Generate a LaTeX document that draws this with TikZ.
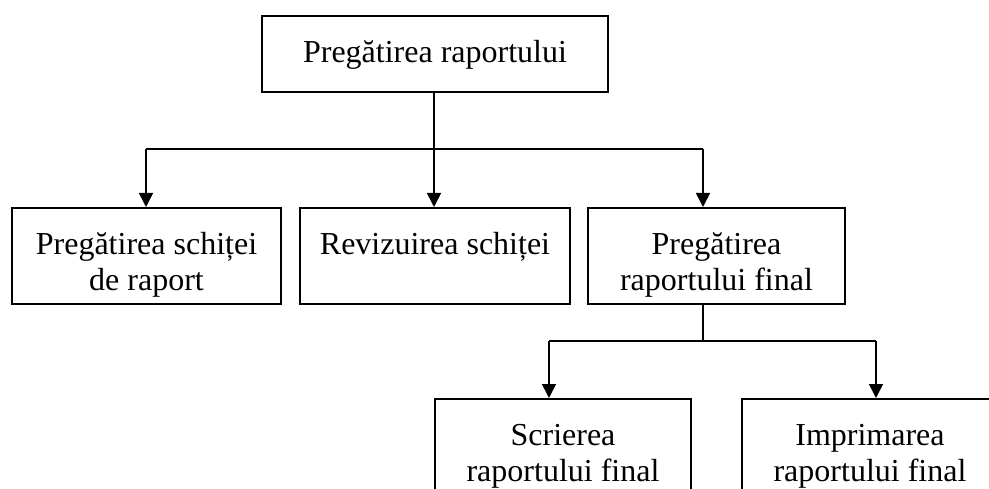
\documentclass[tikz,border=0pt]{standalone}
\usepackage{fontspec}
\setmainfont{Liberation Serif}
\usetikzlibrary{arrows.meta}

\begin{document}
\begin{tikzpicture}[x=1pt,y=-1pt,>={Triangle[width=14pt,length=14pt]},
  font=\fontsize{32}{36.5}\selectfont,
  box/.style={draw,line width=2pt,anchor=north west,minimum width=#1,minimum height=96pt,inner sep=0pt},
  txt/.style={anchor=north,yshift=-21.5pt,align=center,inner sep=0pt},
  conn/.style={line width=1.6pt}]
\clip (0,0) rectangle (989,489);
% top level
\node[box=346,minimum height=76pt,label={[txt]north:\strut Pregătirea raportului}] (top) at (261,15) {};
% second level
\node[box=269,label={[txt]north:\strut Pregătirea schiței\\de raport}] (schita) at (11,207) {};
\node[box=270,label={[txt]north:\strut Revizuirea schiței}] (revizie) at (299,207) {};
\node[box=257,label={[txt]north:\strut Pregătirea\\raportului final}] (final) at (587,207) {};
% third level
\node[box=256,label={[txt]north:\strut Scrierea\\raportului final}] (scriere) at (434,398) {};
\node[box=256,label={[txt]north:\strut Imprimarea\\raportului final}] (imprimare) at (741,398) {};
% connectors
\coordinate (a1) at (146,149); \coordinate (a2) at (434,149); \coordinate (a3) at (703,149);
\draw[conn] (top.south -| a2) -- (a2);
\draw[conn] (a1) -- (a3);
\foreach \c/\n in {a1/schita,a2/revizie,a3/final}
 \draw[conn,->] (\c) -- (\n.north -| \c);
\coordinate (c0) at (703,341); \coordinate (c1) at (549,341); \coordinate (c2) at (876,341);
\draw[conn] (final.south -| c0) -- (c0);
\draw[conn] (c1) -- (c2);
\foreach \c/\n in {c1/scriere,c2/imprimare}
 \draw[conn,->] (\c) -- (\n.north -| \c);
\end{tikzpicture}
\end{document}
